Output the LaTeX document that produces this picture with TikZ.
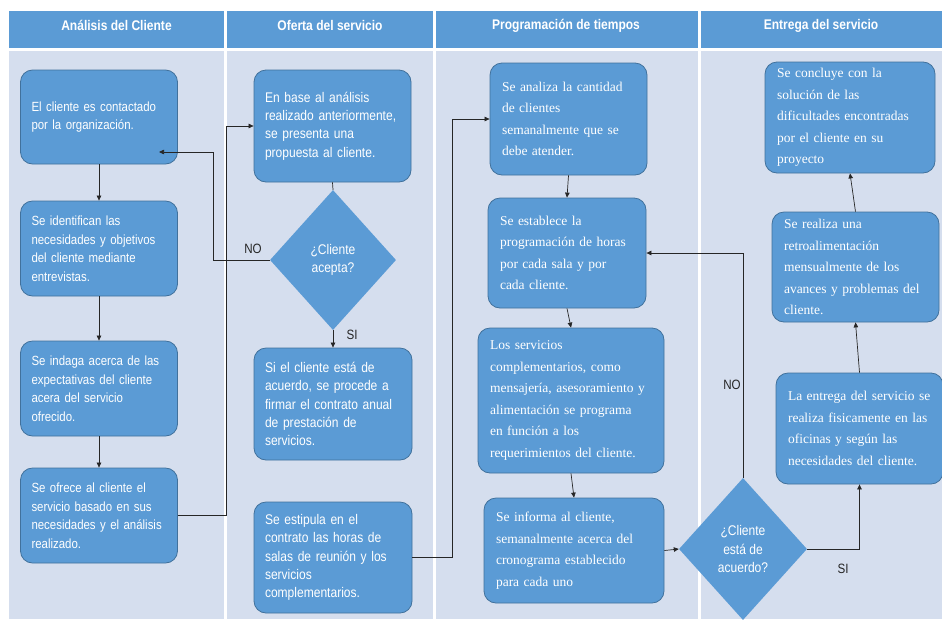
\documentclass[tikz,border=0pt]{standalone}
\usepackage{fontspec}
\setmainfont{Liberation Sans}
\newfontfamily\narrowsans[FakeStretch=0.86]{Liberation Sans}
\newfontfamily\boxserif{Liberation Serif}
\usetikzlibrary{arrows.meta,shapes.geometric,calc}

\definecolor{laneblue}{HTML}{5B9BD5}
\definecolor{lanebg}{HTML}{D5DEEE}
\definecolor{boxfill}{HTML}{5B9BD5}
\definecolor{boxedge}{HTML}{41719C}
\definecolor{wire}{HTML}{262626}

\begin{document}
\begin{tikzpicture}[x=1pt,y=-1pt,
  lanehead/.style={fill=laneblue, draw=none},
  lanebody/.style={fill=lanebg, draw=none},
  headtext/.style={text=white, inner sep=0pt, font=\narrowsans\bfseries\fontsize{14}{16}\selectfont},
  % lines may run into the right padding instead of wrapping
  boxbase/.style={draw=boxedge, line width=0.8pt, fill=boxfill, rounded corners=12pt,
    text=white, align=left, inner ysep=0pt, inner xsep=11pt,
    execute at begin node={\rightskip=-10pt plus 1fil\hyphenpenalty=10000}},
  sansbox/.style={boxbase, font=\narrowsans\fontsize{14}{18.3}\selectfont},
  smallsansbox/.style={boxbase, font=\narrowsans\fontsize{13.3}{18.5}\selectfont},
  serifbox/.style={boxbase, inner xsep=12pt, font=\boxserif\fontsize{13.5}{21.5}\selectfont},
  geom/.style n args={3}{minimum width=#1pt, minimum height=#2pt, text width=#3pt},
  decision/.style={diamond, fill=boxfill, draw=none, inner sep=0pt, text=white,
    align=center, font=\narrowsans\fontsize{14}{18.5}\selectfont},
  flow/.style={draw=wire, line width=0.7pt},
  arr/.style={flow, -{Triangle[length=5pt,width=4.5pt]}},
  tag/.style={text=black!85, inner sep=0pt, font=\narrowsans\fontsize{13.5}{15}\selectfont}
]
\path[use as bounding box] (0,0) rectangle (942,619);
\clip (0,0) rectangle (942,619);
\fill[white] (0,0) rectangle (942,619);

% swimlane headers and bodies
\fill[lanehead] (9,11) rectangle (224,48);
\fill[lanehead] (227,11) rectangle (433,48);
\fill[lanehead] (436,11) rectangle (698,48);
\fill[lanehead] (701,11) rectangle (942,48);
\fill[lanebody] (9,51) rectangle (224,619);
\fill[lanebody] (227,51) rectangle (433,619);
\fill[lanebody] (436,51) rectangle (698,619);
\fill[lanebody] (701,51) rectangle (942,619);

\node[headtext] (h1) at (116.5,25.5) {Análisis del Cliente};
\node[headtext] (h2) at (330,25.5) {Oferta del servicio};
\node[headtext] (h3) at (566,25.5) {Programación de tiempos};
\node[headtext] (h4) at (821,25.5) {Entrega del servicio};

% lane 1
\node[smallsansbox, geom={157}{94}{135}] (A1) at (99,117)
  {El cliente es contactado\\por la organización.};
\node[smallsansbox, geom={157}{95}{135}] (A2) at (99,248.5)
  {Se identifican las\\necesidades y objetivos\\del cliente mediante\\entrevistas.};
\node[smallsansbox, geom={157}{95}{135}] (A3) at (99,388.5)
  {Se indaga acerca de las\\expectativas del cliente\\acera del servicio\\ofrecido.};
\node[smallsansbox, geom={157}{95}{135}] (A4) at (99,515.5)
  {Se ofrece al cliente el\\servicio basado en sus\\necesidades y el análisis\\realizado.};

% lane 2
\node[sansbox, geom={157}{112}{135}] (B1) at (332.5,126)
  {En base al análisis\\realizado anteriormente,\\se presenta una\\propuesta al cliente.};
\node[decision, minimum width=126pt, minimum height=140pt] (B2) at (333,260)
  {¿Cliente\\acepta?};
\node[sansbox, geom={158}{112}{136}] (B3) at (333,404)
  {Si el cliente está de\\acuerdo, se procede a\\firmar el contrato anual\\de prestación de\\servicios.};
\node[sansbox, geom={158}{111}{136}] (B4) at (333,557.5)
  {Se estipula en el\\contrato las horas de\\salas de reunión y los\\servicios\\complementarios.};

% lane 3
\node[serifbox, geom={157}{112}{133}] (C1) at (568.5,119)
  {Se analiza la cantidad\\de clientes\\semanalmente que se\\debe atender.};
\node[serifbox, geom={158}{110}{134}] (C2) at (567,253)
  {Se establece la\\programación de horas\\por cada sala y por\\cada cliente.};
\node[serifbox, geom={186}{145}{162}] (C3) at (571,400.5)
  {Los servicios\\complementarios, como\\mensajería, asesoramiento y\\alimentación se programa\\en función a los\\requerimientos del cliente.};
\node[serifbox, geom={180}{105}{156}] (C4) at (574,550.5)
  {Se informa al cliente,\\semanalmente acerca del\\cronograma establecido\\para cada uno};

% lane 4
\node[decision, minimum width=128pt, minimum height=142pt] (D) at (743,549)
  {¿Cliente\\está de\\acuerdo?};
\node[serifbox, geom={170}{111}{146}] (E1) at (850,117.5)
  {Se concluye con la\\solución de las\\dificultades encontradas\\por el cliente en su\\proyecto};
\node[serifbox, geom={167}{110}{143}] (E2) at (855.5,267)
  {Se realiza una\\retroalimentación\\mensualmente de los\\avances y problemas del\\cliente.};
\node[serifbox, geom={163}{111}{143}] (E3) at (859.5,428.5)
  {La entrega del servicio se\\realiza fisicamente en las\\oficinas y según las\\necesidades del cliente.};

% routing coordinates
\coordinate (k1) at (226,0);
\coordinate (k2) at (213,0);
\coordinate (k3) at (452,0);
\coordinate (noEnd) at (159,152);

% connectors
\draw[arr] (A1.south) -- (A2.north);
\draw[arr] (A2.south) -- (A3.north);
\draw[arr] (A3.south) -- (A4.north);
\draw[arr] (A4.east) -- (A4.east -| k1) |- (B1.west);
\draw[flow] (B1.south) -- (B2.north);
\draw[arr] (B2.west) -- (B2.west -| k2) |- (noEnd);
\draw[arr] (B2.south) -- (B3.north);
\draw[arr] (B4.east) -- (B4.east -| k3) |- (C1.west);
\draw[arr] (C1.south) -- (C2.north);
\draw[arr] (C2.south) -- (C3.north);
\draw[arr] (C3.south) -- (C4.north);
\draw[arr] (C4.east) -- (D.west);
\draw[arr] (D.north) |- (C2.east);
\draw[arr] (D.east) -| (E3.south);
\draw[arr] (E3.north) -- (E2.south);
\draw[arr] (E2.north) -- (E1.south);

% branch labels
\node[tag] (noA) at (253,249) {NO};
\node[tag] (siA) at (352,335) {SI};
\node[tag] (noB) at (732,385) {NO};
\node[tag] (siB) at (843,569) {SI};
\end{tikzpicture}
\end{document}
